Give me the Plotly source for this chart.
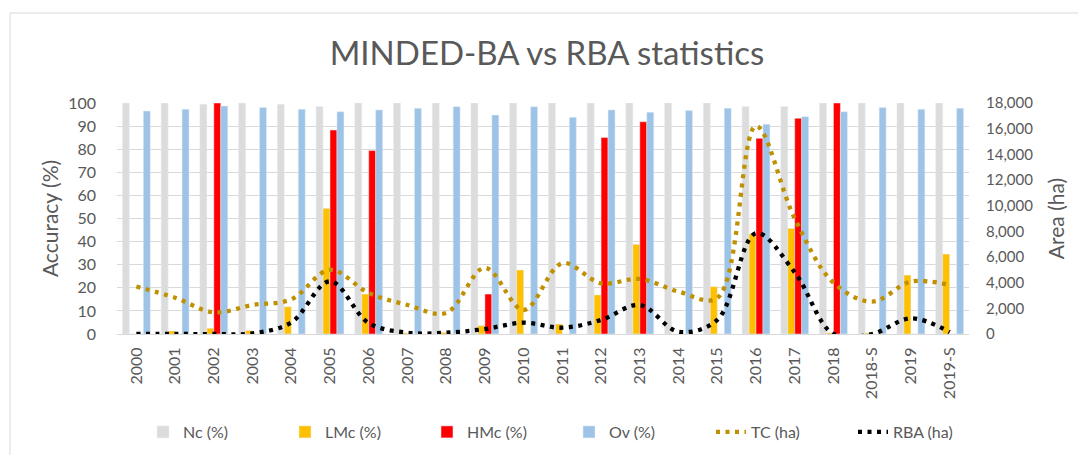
import plotly.graph_objects as go

categories = ["2000", "2001", "2002", "2003", "2004", "2005", "2006", "2007", "2008", "2009",
              "2010", "2011", "2012", "2013", "2014", "2015", "2016", "2017", "2018", "2018-S",
              "2019", "2019-S"]

nc = [100, 100, 99.5, 100, 99.5, 98.5, 100, 100, 100, 100,
      100, 100, 100, 100, 100, 100, 98.5, 98.5, 100, 100,
      100, 100]
lmc = [0, 1.3, 2.5, 1.5, 11.8, 54.4, 17.3, 0.5, 0.7, 3.6,
       27.7, 4.3, 16.9, 38.8, 0, 20.5, 43.3, 45.7, 0.5, 0.5,
       25.5, 34.6]
hmc = [0, 0, 100, 0, 0, 88.3, 79.4, 0, 0, 17.3,
       0, 0, 85.1, 91.9, 0, 0, 84.7, 93.4, 100, 0,
       0, 0]
ov = [96.5, 97.3, 98.7, 98.1, 97.3, 96.2, 97.0, 97.7, 98.4, 94.8,
      98.4, 93.8, 97.0, 96.0, 96.7, 97.7, 90.8, 94.1, 96.2, 98.1,
      97.3, 97.7]
tc = [3700, 2830, 1690, 2260, 2700, 5000, 3200, 2260, 1640, 5150,
      1870, 5510, 3950, 4290, 3300, 2800, 16200, 9000, 4000, 2520,
      4080, 3820]
rba = [0, 0, 0, 50, 900, 4100, 850, 100, 100, 390,
       880, 490, 1090, 2260, 180, 1100, 7850, 4800, 0, 0,
       1220, 150]

y_ticks = list(range(0, 101, 10))
y2_ticks = list(range(0, 18001, 2000))

FONT = "Lato"
GREY = "#595959"

fig = go.Figure()
fig.add_trace(go.Bar(x=categories, y=nc, name="Nc (%)", marker_color="#DCDCDC"))
fig.add_trace(go.Bar(x=categories, y=lmc, name="LMc (%)", marker_color="#FFC000"))
fig.add_trace(go.Bar(x=categories, y=hmc, name="HMc (%)", marker_color="#FF0000"))
fig.add_trace(go.Bar(x=categories, y=ov, name="Ov (%)", marker_color="#9DC3E6"))
fig.add_trace(go.Scatter(x=categories, y=tc, name="TC (ha)", mode="lines", yaxis="y2",
                         line=dict(color="#BF9000", width=4.3, dash="4px,5.5px", shape="spline", smoothing=1)))
fig.add_trace(go.Scatter(x=categories, y=rba, name="RBA (ha)", mode="lines", yaxis="y2",
                         line=dict(color="#000000", width=4.3, dash="4px,5.5px", shape="spline", smoothing=1)))

# page body has an 8px margin: lay out in page coords, then shift by OFF
OFF = 8
W, H = 1086 - OFF, 455 - OFF
L, T = 117 - OFF, 103 - OFF
R = W - (969 - OFF)
B = H - (334 - OFF)
pw = W - L - R
ph = H - T - B


def px_x(x):
    return (x - OFF - L) / pw


def px_y(y):
    return (334 - y) / ph


fig.update_layout(
    width=W, height=H,
    margin=dict(l=L, r=R, t=T, b=B, autoexpand=False),
    paper_bgcolor="white", plot_bgcolor="white",
    font=dict(family=FONT, color=GREY, size=15),
    title=dict(text="MINDED-BA vs RBA statistics", x=0.5, xanchor="center",
               y=1 - (53 - OFF) / H, yanchor="middle",
               font=dict(family=FONT, size=33, color=GREY)),
    barmode="group", bargap=0.28, bargroupgap=0,
    xaxis=dict(tickangle=-90, showgrid=False, showline=True, linecolor="#D9D9D9",
               ticks="", automargin=False, ticklabelstandoff=6,
               tickfont=dict(size=16, color=GREY)),
    yaxis=dict(range=[0, 100], tickvals=y_ticks, showgrid=True, gridcolor="#D9D9D9",
               gridwidth=1, zeroline=False, showline=False, ticks="", automargin=False,
               ticklabelstandoff=20,
               title=dict(text="Accuracy (%)", font=dict(size=21, color=GREY), standoff=3),
               tickfont=dict(size=16, color=GREY)),
    yaxis2=dict(range=[0, 18000], tickvals=y2_ticks, tickformat=",", overlaying="y",
                side="right", showgrid=False, zeroline=False, showline=False, ticks="",
                automargin=False, ticklabelstandoff=16,
                title=dict(text="Area (ha)", font=dict(size=21, color=GREY), standoff=17),
                tickfont=dict(size=15, color=GREY)),
    legend=dict(orientation="h", x=px_x(143), xanchor="left",
                y=px_y(432), yanchor="middle",
                entrywidth=97, entrywidthmode="pixels",
                font=dict(size=16, color=GREY), traceorder="normal"),
    shapes=[dict(type="rect", xref="paper", yref="paper",
                 x0=px_x(10), x1=px_x(1084),
                 y0=px_y(470), y1=px_y(13),
                 line=dict(color="#D9D9D9", width=1), fillcolor="rgba(0,0,0,0)", layer="below")],
)

fig.write_html("out.html")
